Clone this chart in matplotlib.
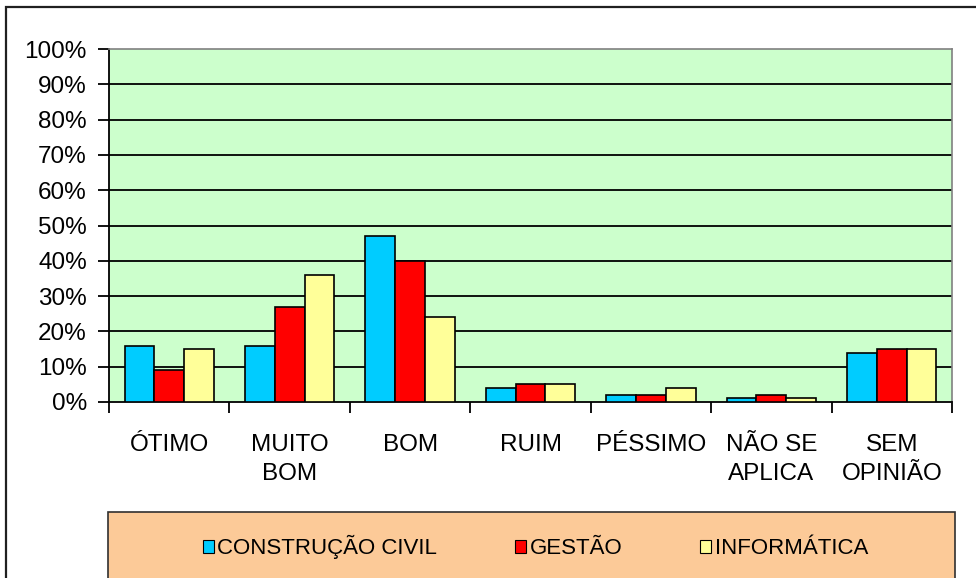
import numpy as np
import matplotlib
matplotlib.use("Agg")
from matplotlib import pyplot as plt
from matplotlib.patches import Rectangle, Patch

categories = ["ÓTIMO", "MUITO\nBOM", "BOM", "RUIM", "PÉSSIMO", "NÃO SE\nAPLICA", "SEM\nOPINIÃO"]
series_names = ["CONSTRUÇÃO CIVIL", "GESTÃO", "INFORMÁTICA"]
construcao = [16, 16, 47, 4, 2, 1, 14]
gestao = [9, 27, 40, 5, 2, 2, 15]
informatica = [15, 36, 24, 5, 4, 1, 15]
yticks = list(range(0, 101, 10))

colors = ["#00CCFF", "#FF0000", "#FFFF99"]

plt.rcParams['font.family'] = ['Liberation Sans', 'DejaVu Sans']

fig = plt.figure(figsize=(9.76, 5.78), dpi=100)
W, H = 976.0, 578.0

# outer chart border
fig.patches.append(Rectangle((6 / W, -0.05), 1.1, 1 - 7 / H + 0.05, transform=fig.transFigure,
                             fill=False, edgecolor="#202020", lw=1.6, zorder=0))

ax = fig.add_axes([109 / W, (H - 402) / H, (952 - 109) / W, 353 / H])
ax.set_facecolor("#CCFFCC")

x = np.arange(len(categories))
w = 0.2475
for i, vals in enumerate([construcao, gestao, informatica]):
    ax.bar(x + (i - 1) * w, vals, width=w, color=colors[i], edgecolor="black",
           linewidth=1.2, zorder=3)

ax.set_xlim(-0.5, len(categories) - 0.5)
ax.set_ylim(0, 100)
ax.set_yticks(yticks)
ax.set_yticklabels([f"{v}%" for v in yticks], fontsize=17.5)
for v in yticks[1:-1]:
    ax.axhline(v, color="black", lw=1.3, zorder=1)

ax.set_xticks(np.arange(len(categories) + 1) - 0.5)
ax.set_xticklabels([])
ax.set_xticks(x, minor=True)
ax.set_xticklabels(categories, minor=True, fontsize=17.5, linespacing=1.4)
ax.tick_params(axis="x", which="minor", length=0, pad=23)
ax.tick_params(axis="x", which="major", length=8, width=1.3, direction="out")
ax.tick_params(axis="y", length=8, width=1.3, direction="out", pad=8)

for s in ["left", "bottom"]:
    ax.spines[s].set_color("black")
    ax.spines[s].set_linewidth(1.3)
for s in ["top", "right"]:
    ax.spines[s].set_color("#808080")
    ax.spines[s].set_linewidth(1.2)

# legend box
fig.patches.append(Rectangle((108 / W, -0.05), (955 - 108) / W, 0.05 + 1 - 512 / H,
                             transform=fig.transFigure, facecolor="#FCCA98",
                             edgecolor="#303030", lw=1.2, zorder=1))
handles = [Patch(facecolor=c, edgecolor="black", lw=0.8) for c in colors]
fig.legend(handles, series_names, loc="center", bbox_to_anchor=(535.5 / W, 1 - 547 / H),
           ncol=3, frameon=False, fontsize=16, handlelength=0.5, handleheight=0.5,
           handletextpad=0.15, columnspacing=3.5)

plt.savefig("out.png", dpi=100)
